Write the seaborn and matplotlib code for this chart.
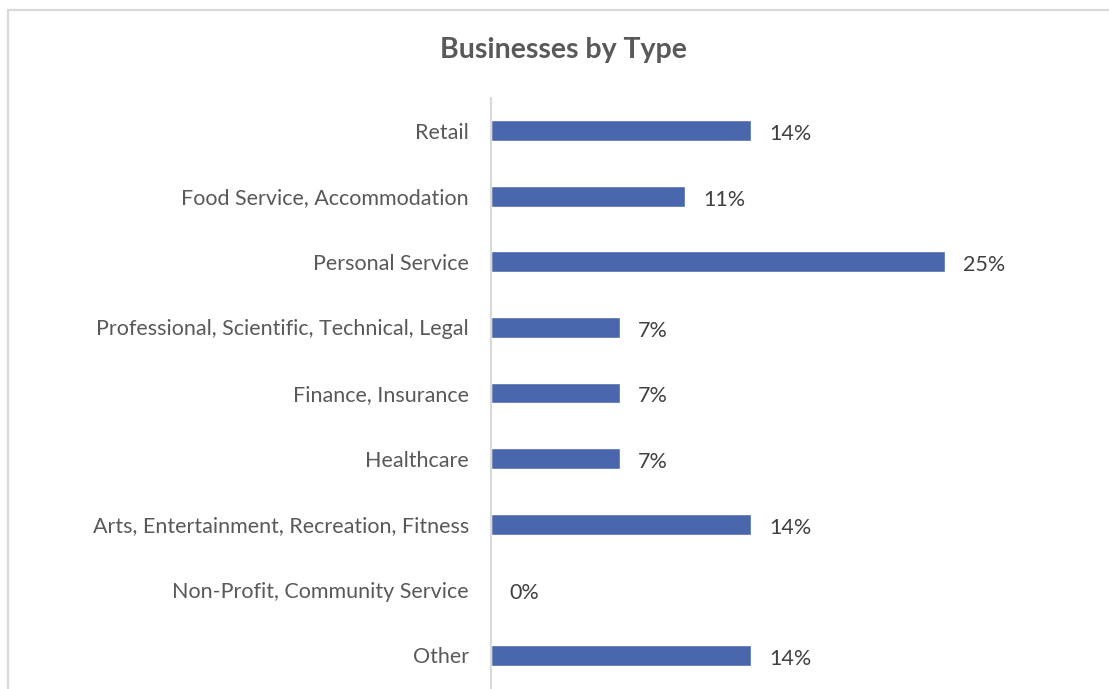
import pandas as pd
import seaborn as sns
import matplotlib.pyplot as plt
from matplotlib.patches import Rectangle

# --- DATA ---
categories = [
    'Retail',
    'Food Service, Accommodation',
    'Personal Service',
    'Professional, Scientific, Technical, Legal',
    'Finance, Insurance',
    'Healthcare',
    'Arts, Entertainment, Recreation, Fitness',
    'Non-Profit, Community Service',
    'Other',
]
shares = [0.143, 0.107, 0.25, 0.071, 0.071, 0.071, 0.143, 0.0, 0.143]

df = pd.DataFrame({'type': categories, 'share': shares})

# --- SETUP ---
sns.set_theme(style="white")
plt.rcParams['font.family'] = ['Lato', 'DejaVu Sans']

W, H = 1109, 689
fig = plt.figure(figsize=(W / 100, H / 100), dpi=100)
ax = fig.add_axes([491 / W, 1 / H, 545 / W, 590 / H])

sns.barplot(
    data=df,
    x='share',
    y='type',
    orient='h',
    color='#4A67AE',
    saturation=1,
    width=0.32,
    ax=ax
)

ax.set_xlim(0, 0.30)
ax.set_ylim(len(categories) - 0.5, -0.5)

# data labels, nudged a little below bar centre like the original
labels = ax.bar_label(ax.containers[0], labels=[f'{v:.0%}' for v in shares],
                      padding=13, fontsize=15.5, color='#404040')
for t in labels:
    t.xyann = (13, -2.5)

# --- AXES STYLING ---
for side in ['top', 'right', 'bottom']:
    ax.spines[side].set_visible(False)
ax.spines['left'].set_color('#D9D9D9')
ax.spines['left'].set_linewidth(1.6)
ax.set_xticks([])
ax.set_xlabel('')
ax.set_ylabel('')
ax.tick_params(axis='y', length=0, pad=16, labelsize=15.5, labelcolor='#595959')

# title
fig.text(563 / W, 1 - 50 / H, 'Businesses by Type', ha='center', va='center',
         fontsize=20.5, fontweight='bold', color='#595959')

# chart border
fig.patches.append(Rectangle((7.5 / W, -0.05), 1.1, 1.05 - 9.5 / H,
                             transform=fig.transFigure, fill=False,
                             edgecolor='#D9D9D9', linewidth=1.6))

fig.savefig('out.png', dpi=100)
